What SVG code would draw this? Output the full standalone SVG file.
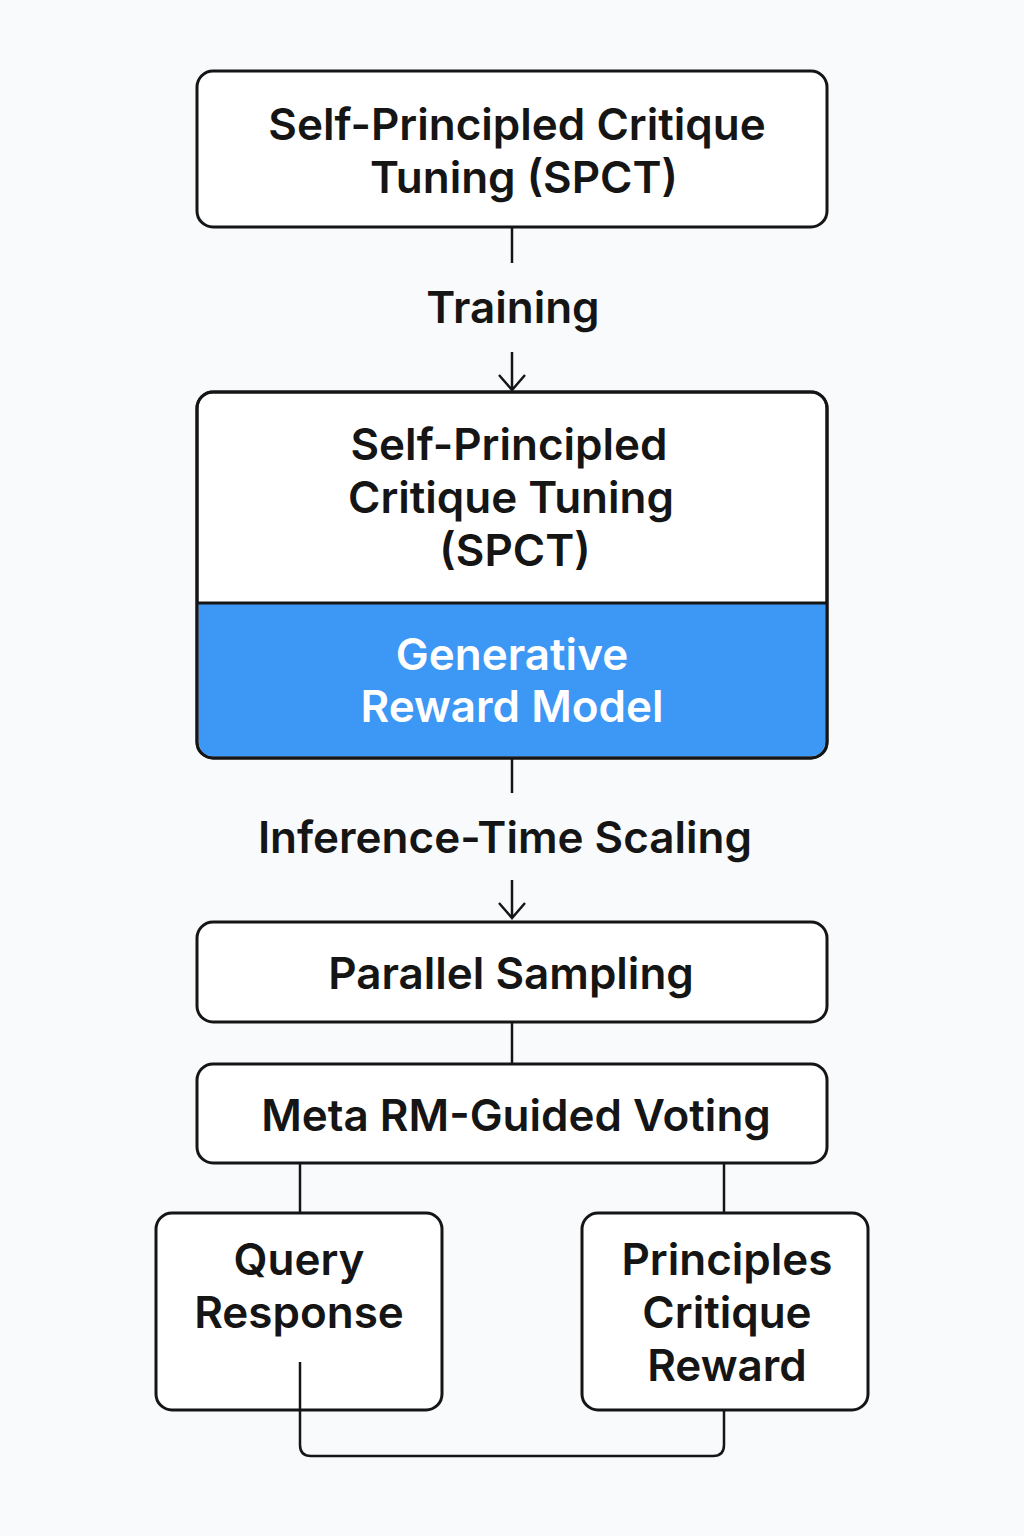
<svg xmlns="http://www.w3.org/2000/svg" width="1024" height="1536" viewBox="0 0 1024 1536">
<defs>
<style>
.box{fill:#ffffff;stroke:#151515;stroke-width:3}
.t{font-family:Inter,"Noto Sans","Liberation Sans",sans-serif;font-weight:600;font-size:44px;fill:#151515;text-anchor:middle}
.w{fill:#ffffff}
.c{fill:none;stroke:#151515;stroke-width:2.5}
</style>
</defs>
<rect width="1024" height="1536" fill="#f8fafc"/>
<g id="connectors">
<line class="c" x1="512" y1="227" x2="512" y2="263"/>
<path class="c" d="M512 352 V390 M499 375 L512 390 L525 375"/>
<line class="c" x1="512" y1="758" x2="512" y2="793"/>
<path class="c" d="M512 880 V918 M499 903 L512 918 L525 903"/>
<line class="c" x1="512" y1="1022" x2="512" y2="1064"/>
<line class="c" x1="300" y1="1163" x2="300" y2="1213"/>
<line class="c" x1="724" y1="1163" x2="724" y2="1213"/>
<path class="c" d="M300 1362 V1445 Q300 1456 311 1456 H713 Q724 1456 724 1445 V1410"/>
</g>
<g id="node-spct-top">
<rect class="box" x="197" y="71" width="630" height="156" rx="16"/>
<text class="t" x="517" y="140">Self-Principled Critique</text>
<text class="t" x="524" y="193">Tuning (SPCT)</text>
</g>
<g id="label-training">
<text class="t" x="513" y="323">Training</text>
</g>
<g id="node-grm">
<rect class="box" x="197" y="392" width="630" height="366" rx="16"/>
<path d="M198.5 603 H825.5 V740 Q825.5 756.5 809 756.5 H215 Q198.5 756.5 198.5 740 Z" fill="#3d97f5"/>
<line x1="197" y1="603" x2="827" y2="603" stroke="#151515" stroke-width="3"/>
<rect x="197" y="392" width="630" height="366" rx="16" fill="none" stroke="#151515" stroke-width="3"/>
<text class="t" x="509" y="460">Self-Principled</text>
<text class="t" x="511" y="513">Critique Tuning</text>
<text class="t" x="515" y="566">(SPCT)</text>
<text class="t w" x="512" y="670">Generative</text>
<text class="t w" x="512" y="722">Reward Model</text>
</g>
<g id="label-inference">
<text class="t" x="505" y="853">Inference-Time Scaling</text>
</g>
<g id="node-parallel">
<rect class="box" x="197" y="922" width="630" height="100" rx="16"/>
<text class="t" x="511" y="989">Parallel Sampling</text>
</g>
<g id="node-meta">
<rect class="box" x="197" y="1064" width="630" height="99" rx="16"/>
<text class="t" x="516" y="1131">Meta RM-Guided Voting</text>
</g>
<g id="node-query">
<rect class="box" x="156" y="1213" width="286" height="197" rx="16"/>
<text class="t" x="299" y="1275">Query</text>
<text class="t" x="299" y="1328">Response</text>
</g>
<g id="node-principles">
<rect class="box" x="582" y="1213" width="286" height="197" rx="16"/>
<text class="t" x="727" y="1275">Principles</text>
<text class="t" x="727" y="1328">Critique</text>
<text class="t" x="727" y="1381">Reward</text>
</g>
<line class="c" x1="300" y1="1362" x2="300" y2="1410"/>
</svg>
